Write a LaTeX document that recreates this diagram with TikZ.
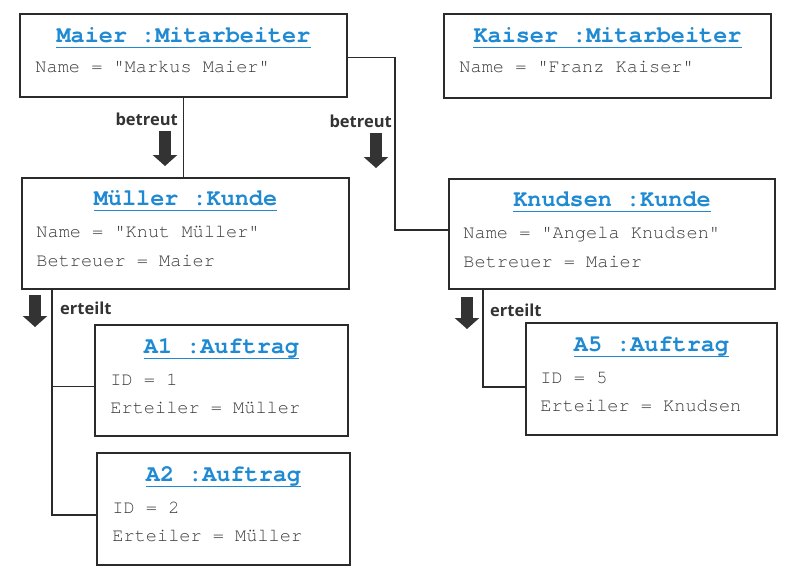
\documentclass[tikz,border=0pt]{standalone}
\usepackage{fontspec}
\usetikzlibrary{arrows.meta,calc}
\newfontfamily\monofont{TeX Gyre Cursor}
\newfontfamily\labelfont{Open Sans}
\definecolor{titelblau}{HTML}{1F8AD2}
\definecolor{attrgrau}{HTML}{3A3A3A}
\definecolor{rahmen}{HTML}{2B2B2B}
\definecolor{pfeilgrau}{HTML}{333333}
\tikzset{
  objekt/.style={draw=rahmen, line width=1.5pt, inner sep=0pt},
  titel/.style={anchor=base, inner sep=0pt, text=titelblau,
    font=\monofont\bfseries\fontsize{23.5}{24}\selectfont,
    append after command={([yshift=-5pt]\tikzlastnode.base west)
      edge[draw=titelblau, line width=1.4pt] ([yshift=-5pt]\tikzlastnode.base east)}},
  attr/.style={anchor=base west, inner sep=0pt, text=attrgrau,
    font=\monofont\fontsize{18.6}{19}\selectfont},
  link/.style={draw=rahmen, line width=1.6pt},
  rolle/.style={inner sep=0pt, text=pfeilgrau,
    font=\labelfont\bfseries\fontsize{16.5}{17}\selectfont},
  pfeil/.style={draw=pfeilgrau, line width=12pt, -{Triangle[width=24pt,length=11pt]}}
}
\begin{document}
\begin{tikzpicture}[x=1pt, y=-1pt]
    \useasboundingbox (0,0) rectangle (798,576);
    % Mitarbeiter
    \node[objekt, minimum width=327pt, minimum height=83pt] (maier) at (183.5,55.5) {};
    \node[titel] (maier-titel) at ($(maier.north)+(0,29)$) {Maier :Mitarbeiter};
    \node[attr] (maier-name) at ($(maier.north west)+(16,59)$) {Name = "Markus Maier"};
    \node[objekt, minimum width=327pt, minimum height=84pt] (kaiser) at (607.5,56) {};
    \node[titel] (kaiser-titel) at ($(kaiser.north)+(0,29)$) {Kaiser :Mitarbeiter};
    \node[attr] (kaiser-name) at ($(kaiser.north west)+(16,59)$) {Name = "Franz Kaiser"};
    % Kunden
    \node[objekt, minimum width=327pt, minimum height=111pt] (mueller) at (185.5,233.5) {};
    \node[titel] (mueller-titel) at ($(mueller.north)+(0,28)$) {Müller :Kunde};
    \node[attr] (mueller-name) at ($(mueller.north west)+(15,60)$) {Name = "Knut Müller"};
    \node[attr] (mueller-betr) at ($(mueller.north west)+(15,89)$) {Betreuer = Maier};
    \node[objekt, minimum width=326pt, minimum height=110pt] (knudsen) at (612,234) {};
    \node[titel] (knudsen-titel) at ($(knudsen.north)+(0,28)$) {Knudsen :Kunde};
    \node[attr] (knudsen-name) at ($(knudsen.north west)+(15,60)$) {Name = "Angela Knudsen"};
    \node[attr] (knudsen-betr) at ($(knudsen.north west)+(15,89)$) {Betreuer = Maier};
    % Auftraege
    \node[objekt, minimum width=253pt, minimum height=111pt] (a1) at (221.5,380.5) {};
    \node[titel] (a1-titel) at ($(a1.north)+(0,29)$) {A1 :Auftrag};
    \node[attr] (a1-id) at ($(a1.north west)+(16,61)$) {ID = 1};
    \node[attr] (a1-ert) at ($(a1.north west)+(16,89)$) {Erteiler = Müller};
    \node[objekt, minimum width=253pt, minimum height=112pt] (a2) at (223.5,509) {};
    \node[titel] (a2-titel) at ($(a2.north)+(0,29)$) {A2 :Auftrag};
    \node[attr] (a2-id) at ($(a2.north west)+(16,61)$) {ID = 2};
    \node[attr] (a2-ert) at ($(a2.north west)+(16,89)$) {Erteiler = Müller};
    \node[objekt, minimum width=251pt, minimum height=112pt] (a5) at (651.5,379) {};
    \node[titel] (a5-titel) at ($(a5.north)+(0,29)$) {A5 :Auftrag};
    \node[attr] (a5-id) at ($(a5.north west)+(15,61)$) {ID = 5};
    \node[attr] (a5-ert) at ($(a5.north west)+(15,89)$) {Erteiler = Knudsen};
    % Verbindungen
    \draw[link] (maier.south) -- (maier.south |- mueller.north);
    \draw[link] ($(maier.east)+(0,2)$) -| ($(knudsen.west)+(-53,-4)$) -- ($(knudsen.west)+(0,-4)$);
    \coordinate (mstamm) at ($(mueller.south west)+(31,0)$);
    \coordinate (a1-an) at ($(a1.west)+(0,6)$);
    \draw[link] (mstamm) |- ($(a2.west)+(0,6)$);
    \draw[link] (mstamm |- a1-an) -- (a1-an);
    \coordinate (kstamm) at ($(knudsen.south west)+(35,0)$);
    \draw[link] (kstamm) |- ($(a5.west)+(0,8)$);
    % Rollen
    \node[rolle, anchor=base east] (betreut-a) at (178,125) {betreut};
    \node[rolle, anchor=base east] (betreut-b) at (392,127) {betreut};
    \node[rolle, anchor=base west] (erteilt-a) at (60,314) {erteilt};
    \node[rolle, anchor=base west] (erteilt-b) at (490,316) {erteilt};
    \draw[pfeil] (165,131) -- (165,166);
    \draw[pfeil] (376,133) -- (376,168);
    \draw[pfeil] (35,295) -- (35,327);
    \draw[pfeil] (467,297) -- (467,329);
\end{tikzpicture}
\end{document}
